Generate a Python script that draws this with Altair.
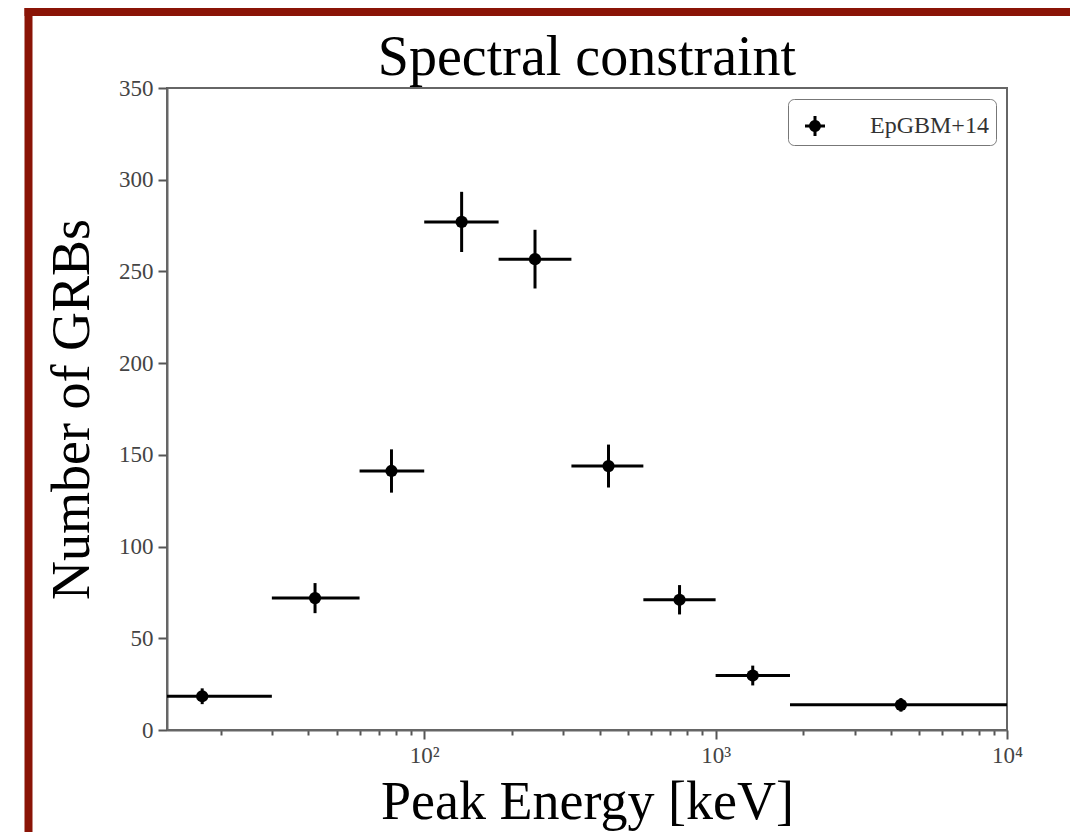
import altair as alt
import pandas as pd

# Values
ep_center = [17.3, 42.2, 77.2, 134.4, 240.0, 429.0, 752.0, 1341.0, 4325.0]
ep_low = [10, 30, 60, 100, 180, 320, 565, 1000, 1800]
ep_high = [30, 60, 100, 180, 320, 565, 1000, 1800, 10000]
n_grb = [18.4, 71.9, 141.2, 277.0, 256.7, 143.9, 71.0, 29.7, 13.7]
n_err = [4.3, 8.2, 11.8, 16.4, 16.0, 11.7, 8.0, 5.4, 3.7]
series_name = "EpGBM+14"
title_text = "Spectral constraint"

x_ticks = [20, 30, 40, 50, 60, 70, 80, 90, 100,
           200, 300, 400, 500, 600, 700, 800, 900, 1000,
           2000, 3000, 4000, 5000, 6000, 7000, 8000, 9000, 10000]
y_ticks = [0, 50, 100, 150, 200, 250, 300, 350]

df = pd.DataFrame({
    "ep": ep_center,
    "lo": ep_low,
    "hi": ep_high,
    "n": n_grb,
    "nlo": [a - b for a, b in zip(n_grb, n_err)],
    "nhi": [a + b for a, b in zip(n_grb, n_err)],
    "series": [series_name] * len(n_grb),
})

SERIF = "Liberation Serif"
BORDER = "#8a1406"

xscale = alt.Scale(type="log", domain=[13.1, 10000], nice=False)
yscale = alt.Scale(domain=[0, 350], nice=False)

label_expr = ("datum.value == 100 ? '10²' : datum.value == 1000 ? '10³' : "
              "datum.value == 10000 ? '10⁴' : ''")

x_axis = alt.Axis(
    values=x_ticks,
    labelExpr=label_expr,
    title="Peak Energy [keV]",
    tickSize={"condition": {"test": "indexof([100,1000,10000], datum.value) >= 0", "value": 9}, "value": 5},
    labelPadding=5,
    titlePadding=8,
    labelFlush=False,
    labelOverlap=False,
)
y_axis = alt.Axis(
    values=y_ticks,
    title="Number of GRBs",
    tickSize=9,
    labelPadding=5,
    titlePadding=19,
)

base = alt.Chart(df)

hbars = base.mark_rule(color="black", strokeWidth=3, clip=True).encode(
    x=alt.X("lo:Q", scale=xscale, axis=x_axis),
    x2="hi:Q",
    y=alt.Y("n:Q", scale=yscale, axis=y_axis),
)
vbars = base.mark_rule(color="black", strokeWidth=3, clip=True).encode(
    x=alt.X("ep:Q", scale=xscale),
    y=alt.Y("nlo:Q", scale=yscale),
    y2="nhi:Q",
)

legend_symbol = ("M -0.5 -0.075 H 0.5 V 0.075 H -0.5 Z "
                 "M -0.075 -0.5 H 0.075 V 0.5 H -0.075 Z "
                 "M 0.3 0 A 0.3 0.3 0 1 1 -0.3 0 A 0.3 0.3 0 1 1 0.3 0 Z")

points = base.mark_point(filled=True, size=150, opacity=1).encode(
    x=alt.X("ep:Q", scale=xscale),
    y=alt.Y("n:Q", scale=yscale),
    color=alt.Color(
        "series:N",
        scale=alt.Scale(domain=[series_name], range=["black"]),
        legend=alt.Legend(
            title=None,
            orient="top-right",
            offset=11,
            symbolType=legend_symbol,
            symbolSize=1600,
            symbolStrokeWidth=0,
            symbolOpacity=1,
            labelFont=SERIF,
            labelFontSize=24,
            labelColor="#333",
            labelOffset=35,
            fillColor="white",
            strokeColor="#777",
            cornerRadius=6,
            padding=7,
        ),
    ),
)

one_row = alt.Data(values=[{"k": 1}])
left_border = alt.Chart(one_row).mark_rule(color=BORDER, strokeWidth=8).encode(
    x=alt.value(-138.5), y=alt.value(-80), y2=alt.value(760)
)
top_border = alt.Chart(one_row).mark_rule(color=BORDER, strokeWidth=8).encode(
    x=alt.value(-142.5), x2=alt.value(910), y=alt.value(-76)
)
title_mark = alt.Chart(one_row).mark_text(
    font=SERIF, fontSize=56, color="black", align="center", baseline="alphabetic"
).encode(
    x=alt.value(420), y=alt.value(-13), text=alt.value(title_text)
)

chart = alt.layer(left_border, top_border, title_mark, hbars, vbars, points).properties(
    width=840,
    height=642,
    autosize=alt.AutoSizeParams(type="none"),
    padding={"left": 167, "top": 88, "right": 63, "bottom": 102},
    background="white",
).configure_view(
    stroke="#666", strokeWidth=2
).configure_axis(
    labelFont=SERIF,
    labelFontSize=23,
    labelColor="#444",
    tickColor="#555",
    tickWidth=2,
    domainColor="#666",
    domainWidth=2,
    grid=False,
    titleFont=SERIF,
    titleFontSize=54,
    titleFontWeight="normal",
    titleColor="black",
)

chart.save("out.html", embed_options={"renderer": "svg", "actions": False})
